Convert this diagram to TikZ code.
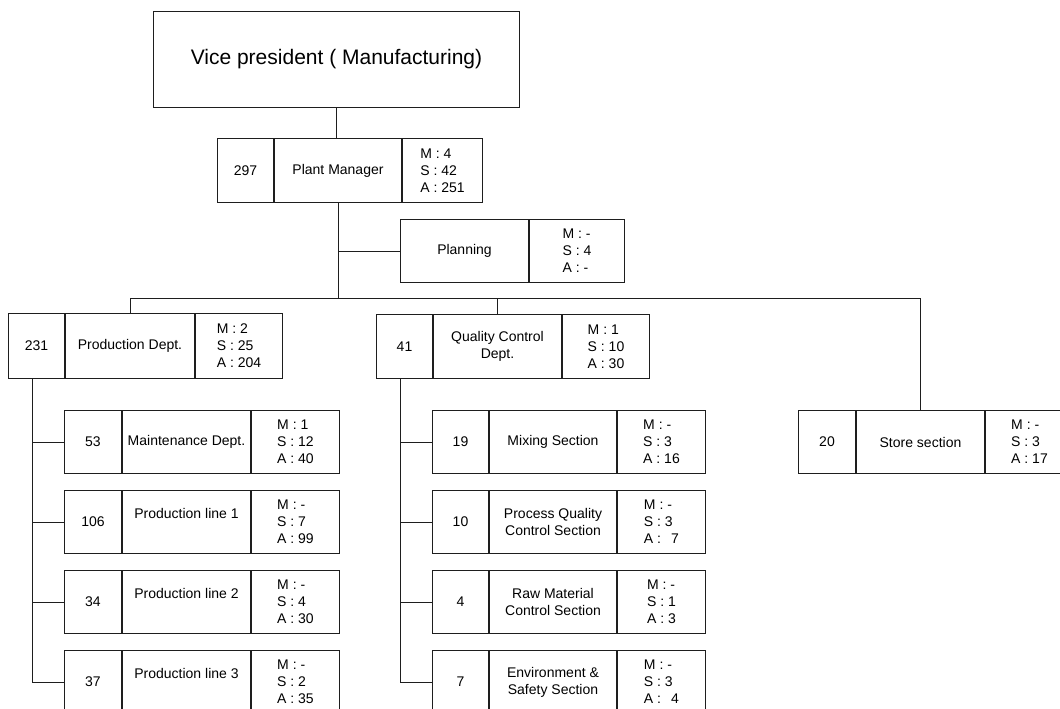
\documentclass[tikz,border=0pt]{standalone}
\usepackage{fontspec}
\setmainfont{Liberation Sans}
\definecolor{linec}{HTML}{1E1E1E}
\tikzset{
  cell/.style n args={2}{draw=linec, line width=1pt, minimum width=#1pt,
    minimum height=#2pt, inner sep=0pt, anchor=north west, align=center,
    font=\fontsize{14pt}{17pt}\selectfont},
  stats/.style={align=left},
  wire/.style={draw=linec, line width=1pt},
}
\begin{document}
\begin{tikzpicture}[x=1pt, y=-1pt]
  \useasboundingbox (0,0) rectangle (1060,709);
  \clip (0,0) rectangle (1060,709);

  % top of the chart
  \node[draw=linec, line width=1pt, minimum width=366pt, minimum height=96pt,
        inner sep=0pt, anchor=north west, font=\fontsize{21pt}{25pt}\selectfont]
        (vp) at (153,11) {Vice president ( Manufacturing)};

  \node[cell={56}{64}] (pm-n) at (217,138) {297};
  \node[cell={127}{64}] (pm-t) at (pm-n.north east) {Plant Manager};
  \node[cell={80}{64}, stats] (pm-s) at (pm-t.north east) {M : 4\\S : 42\\A : 251};

  \node[cell={128}{63}] (plan-t) at (400,219) {Planning};
  \node[cell={95}{63}, stats] (plan-s) at (plan-t.north east) {M : -\\S : 4\\A : -};

  % departments
  \node[cell={56}{65}] (prod-n) at (8,313) {231};
  \node[cell={129}{65}] (prod-t) at (prod-n.north east) {Production Dept.};
  \node[cell={87}{65}, stats] (prod-s) at (prod-t.north east) {M : 2\\S : 25\\A : 204};

  \node[cell={56}{64}] (qc-n) at (376,314) {41};
  \node[cell={128}{64}] (qc-t) at (qc-n.north east) {Quality Control\\Dept.};
  \node[cell={87}{64}, stats] (qc-s) at (qc-t.north east) {M : 1\\S : 10\\A : 30};

  \node[cell={57}{63}] (st-n) at (798,410) {20};
  \node[cell={128}{63}] (st-t) at (st-n.north east) {Store section};
  \node[cell={88}{63}, stats] (st-s) at (st-t.north east) {M : -\\S : 3\\A : 17};

  % production sections
  \node[cell={57}{63}] (mt-n) at (64,410) {53};
  \node[cell={128}{63}] (mt-t) at (mt-n.north east) {Maintenance Dept.};
  \node[cell={88}{63}, stats] (mt-s) at (mt-t.north east) {M : 1\\S : 12\\A : 40};

  \node[cell={57}{63}] (l1-n) at (64,490) {106};
  \node[cell={128}{63}] (l1-t) at (l1-n.north east) {Production line 1\\\mbox{}};
  \node[cell={88}{63}, stats] (l1-s) at (l1-t.north east) {M : -\\S : 7\\A : 99};

  \node[cell={57}{63}] (l2-n) at (64,570) {34};
  \node[cell={128}{63}] (l2-t) at (l2-n.north east) {Production line 2\\\mbox{}};
  \node[cell={88}{63}, stats] (l2-s) at (l2-t.north east) {M : -\\S : 4\\A : 30};

  \node[cell={57}{63}] (l3-n) at (64,650) {37};
  \node[cell={128}{63}] (l3-t) at (l3-n.north east) {Production line 3\\\mbox{}};
  \node[cell={88}{63}, stats] (l3-s) at (l3-t.north east) {M : -\\S : 2\\A : 35};

  % quality control sections
  \node[cell={56}{63}] (mx-n) at (432,410) {19};
  \node[cell={127}{63}] (mx-t) at (mx-n.north east) {Mixing Section};
  \node[cell={88}{63}, stats] (mx-s) at (mx-t.north east) {M : -\\S : 3\\A : 16};

  \node[cell={56}{63}] (pq-n) at (432,490) {10};
  \node[cell={127}{63}] (pq-t) at (pq-n.north east) {Process Quality\\Control Section};
  \node[cell={88}{63}, stats] (pq-s) at (pq-t.north east) {M : -\\S : 3\\A : \ \,7};

  \node[cell={56}{63}] (rm-n) at (432,570) {4};
  \node[cell={127}{63}] (rm-t) at (rm-n.north east) {Raw Material\\Control Section};
  \node[cell={88}{63}, stats] (rm-s) at (rm-t.north east) {M : -\\S : 1\\A : 3};

  \node[cell={56}{63}] (es-n) at (432,650) {7};
  \node[cell={127}{63}] (es-t) at (es-n.north east) {Environment \&\\Safety Section};
  \node[cell={88}{63}, stats] (es-s) at (es-t.north east) {M : -\\S : 3\\A : \ \,4};

  % connectors
  \coordinate (bus) at (336,298);
  \coordinate (pspine) at (32,378);
  \coordinate (qspine) at (400,378);

  \draw[wire] (vp.south) -- (vp.south |- pm-t.north);
  \draw[wire] (pm-t.south) -- (pm-t.south |- bus);
  \draw[wire] (pm-t.south |- plan-t.west) -- (plan-t.west);
  \draw[wire] (prod-t.north) -- (prod-t.north |- bus) -- (st-t.north |- bus) -- (st-t.north);
  \draw[wire] (qc-t.north |- bus) -- (qc-t.north);

  \draw[wire] (pspine) |- (l3-n.west);
  \draw[wire] (pspine |- mt-n.west) -- (mt-n.west);
  \draw[wire] (pspine |- l1-n.west) -- (l1-n.west);
  \draw[wire] (pspine |- l2-n.west) -- (l2-n.west);

  \draw[wire] (qspine) |- (es-n.west);
  \draw[wire] (qspine |- mx-n.west) -- (mx-n.west);
  \draw[wire] (qspine |- pq-n.west) -- (pq-n.west);
  \draw[wire] (qspine |- rm-n.west) -- (rm-n.west);
\end{tikzpicture}
\end{document}
